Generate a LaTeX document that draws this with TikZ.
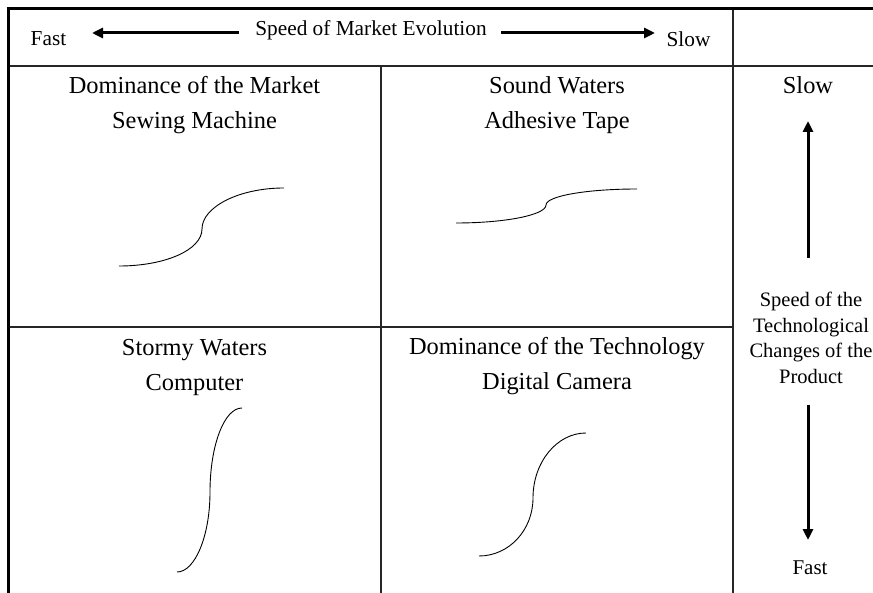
\documentclass[tikz,border=0pt]{standalone}
\usepackage{fontspec}
\setmainfont{Liberation Serif}
\usetikzlibrary{arrows.meta}

\begin{document}
\begin{tikzpicture}[x=1pt,y=-1pt,
  frame/.style={line width=3pt},
  rule/.style={line width=1.3pt, black!85},
  scurve/.style={line width=0.9pt},
  axis/.style={line width=3pt, -{Triangle[length=11pt,width=10pt]}},
  title/.style={font=\fontsize{24.4}{28}\selectfont, anchor=base, inner sep=0pt},
  label/.style={font=\fontsize{21.3}{25}\selectfont, anchor=base, inner sep=0pt},
  side/.style={font=\fontsize{20.5}{25.6}\selectfont, align=center, inner sep=0pt}]
\useasboundingbox (0,0) rectangle (873,593);
\clip (0,0) rectangle (873,593);

% table rules
\draw[rule] (8,66) -- (873,66);
\draw[rule] (8,327) -- (733,327);
\draw[rule] (381,66) -- (381,593);
\draw[rule] (733,9) -- (733,593);
\draw[frame] (6.5,9) -- (873,9);
\draw[frame] (8,7.5) -- (8,593);

% header row
\node[label] (hfast) at (48.5,46) {Fast};
\node[label] (hslow) at (688.5,47) {Slow};
\node[label] (evo) at (371,36) {Speed of Market Evolution};
\coordinate (la0) at (239,33);
\coordinate (la1) at (92,33);
\coordinate (ra0) at (501,33);
\coordinate (ra1) at (655,33);
\draw[axis] (la0) -- (la1);
\draw[axis] (ra0) -- (ra1);

% quadrant titles
\node[title] (q1a) at (194.5,94) {Dominance of the Market};
\node[title] (q1b) at (194.5,129) {Sewing Machine};
\node[title] (q2a) at (557,94) {Sound Waters};
\node[title] (q2b) at (557,129) {Adhesive Tape};
\node[title] (q3a) at (194.5,356) {Stormy Waters};
\node[title] (q3b) at (194.5,391) {Computer};
\node[title] (q4a) at (557,355) {Dominance of the Technology};
\node[title] (q4b) at (557,390) {Digital Camera};

% right column
\node[title] (rslow) at (808,94) {Slow};
\node[side] (rtext) at (811,338) {Speed of the\\Technological\\Changes of the\\Product};
\node[label, font=\fontsize{21}{25}\selectfont] (rfast) at (810,574) {Fast};
\coordinate (ua0) at (808,258);
\coordinate (ua1) at (808,121);
\coordinate (da0) at (808,405);
\coordinate (da1) at (808,540);
\draw[axis] (ua0) -- (ua1);
\draw[axis] (da0) -- (da1);

% S-curves: quarter arcs meeting with a vertical tangent
\draw[scurve] (119,266) .. controls (165,266) and (202,250) .. (202,229)
              .. controls (202,207) and (239,188) .. (284,188);
\draw[scurve] (456,223) .. controls (505,223) and (546,215) .. (546,205)
              .. controls (546,196) and (587,189) .. (637,189);
\draw[scurve] (177,572) .. controls (195,572) and (210,536) .. (210,492)
              .. controls (210,446) and (224,408) .. (242,408);
\draw[scurve] (479,556) .. controls (509,556) and (533,530) .. (533,498)
              .. controls (533,462) and (557,433) .. (586,433);
\end{tikzpicture}
\end{document}
